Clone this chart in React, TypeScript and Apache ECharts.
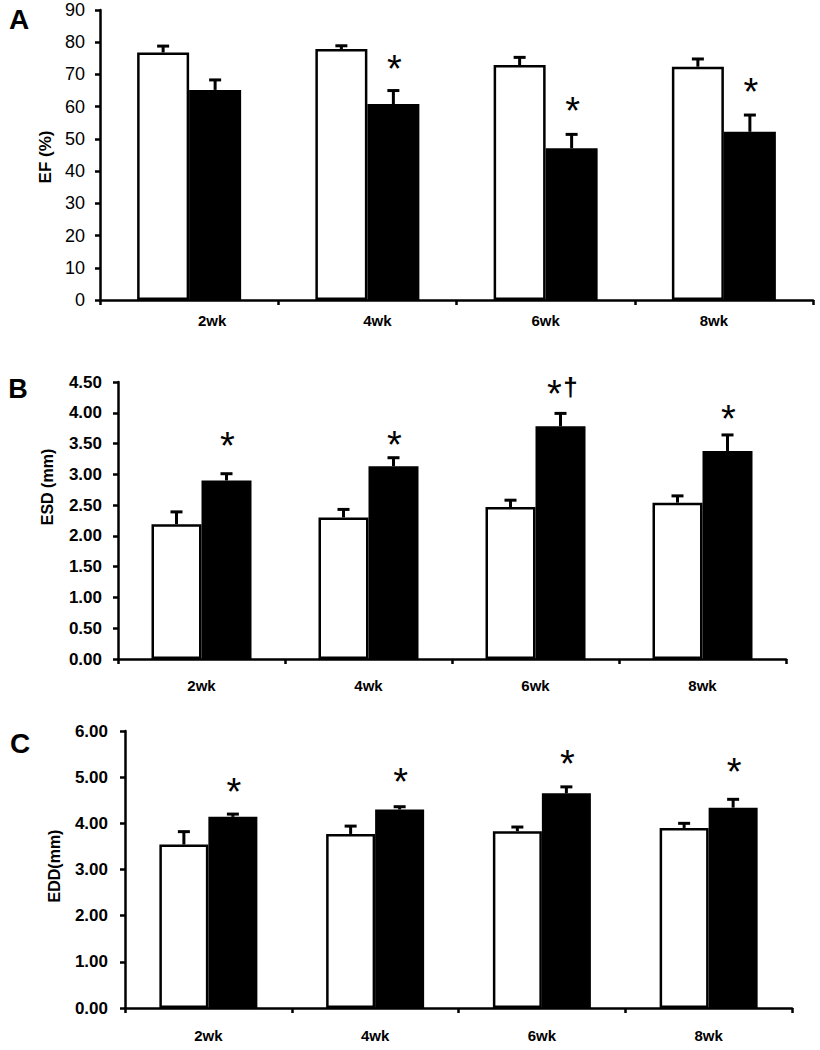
import React, { useEffect, useRef } from "react";
import * as echarts from "echarts";

// ---- data ----
const weeks = ["2wk", "4wk", "6wk", "8wk"];

const efSham = [76.8, 77.9, 72.9, 72.4];
const efShamErr = [2.0, 1.0, 2.4, 2.4];
const efTac = [65.2, 60.8, 47.1, 52.2];
const efTacErr = [3.1, 4.2, 4.3, 5.2];
const efMarks = ["", "*", "*", "*"];
const efMarkY = [0, 74.5, 61.6, 67.2];

const esdSham = [2.19, 2.3, 2.47, 2.54];
const esdShamErr = [0.2, 0.13, 0.11, 0.11];
const esdTac = [2.9, 3.13, 3.78, 3.38];
const esdTacErr = [0.11, 0.14, 0.21, 0.26];
const esdMarks = ["*", "*", "*†", "*"];
const esdMarkY = [3.6, 3.62, 4.45, 4.05];

const eddSham = [3.54, 3.77, 3.83, 3.9];
const eddShamErr = [0.28, 0.17, 0.09, 0.1];
const eddTac = [4.14, 4.3, 4.65, 4.34];
const eddTacErr = [0.06, 0.06, 0.14, 0.18];
const eddMarks = ["*", "*", "*", "*"];
const eddMarkY = [4.88, 5.09, 5.49, 5.31];

const FONT = "'Liberation Sans', Arial, Helvetica, sans-serif";
const BLACK = "#000000";

function barPair(g: number, sham: number[], tac: number[], bw: number) {
  return [
    {
      type: "bar",
      xAxisIndex: g,
      yAxisIndex: g,
      data: sham,
      barWidth: bw,
      barGap: "0%",
      z: 2,
      itemStyle: { color: "#ffffff", borderColor: BLACK, borderWidth: 2.5 },
    },
    {
      type: "bar",
      xAxisIndex: g,
      yAxisIndex: g,
      data: tac,
      barWidth: bw,
      barGap: "0%",
      z: 2,
      itemStyle: { color: BLACK, borderColor: BLACK, borderWidth: 2.5 },
    },
  ];
}

function errorSeries(g: number, vals: number[], errs: number[], side: number, bw: number) {
  return {
    type: "custom",
    xAxisIndex: g,
    yAxisIndex: g,
    z: 5,
    data: vals.map((v, i) => [i, v, v + errs[i]]),
    renderItem: (_p: any, api: any) => {
      const base = api.coord([api.value(0), api.value(1)]);
      const top = api.coord([api.value(0), api.value(2)]);
      const x = base[0] + (side * bw) / 2;
      return {
        type: "group",
        children: [
          { type: "line", shape: { x1: x, y1: base[1], x2: x, y2: top[1] }, style: { stroke: BLACK, lineWidth: 3 } },
          { type: "line", shape: { x1: x - 6, y1: top[1], x2: x + 6, y2: top[1] }, style: { stroke: BLACK, lineWidth: 3 } },
        ],
      };
    },
  };
}

function markSeries(g: number, marks: string[], ys: number[], bw: number) {
  const data = marks.map((m, i) => [i, ys[i]]).filter((d) => marks[d[0]] !== "");
  return {
    type: "custom",
    xAxisIndex: g,
    yAxisIndex: g,
    z: 6,
    data,
    renderItem: (_p: any, api: any) => {
      const idx = api.value(0);
      const pt = api.coord([idx, api.value(1)]);
      const cx = pt[0] + bw / 2;
      const m = marks[idx];
      const chars = Array.from(m);
      const children: any[] = [];
      const offs = chars.length === 1 ? [1] : [-6, 10];
      chars.forEach((c, k) => {
        const isStar = c === "*";
        children.push({
          type: "text",
          x: cx + offs[k],
          y: pt[1] + (isStar ? 9 : 2),
          style: {
            text: c,
            fill: BLACK,
            fontFamily: FONT,
            fontSize: isStar ? 38 : 26,
            fontWeight: isStar ? "normal" : "bold",
            align: "center",
            verticalAlign: "middle",
          },
        });
      });
      return { type: "group", children };
    },
  };
}

function xAxisFor(g: number, margin: number, rich?: boolean) {
  const ax: any = {
    gridIndex: g,
    type: "category",
    data: weeks,
    axisLine: { show: true, lineStyle: { color: BLACK, width: 2.5 } },
    axisTick: { show: true, length: 5, lineStyle: { color: BLACK, width: 2.5 } },
    splitLine: { show: false },
    axisLabel: {
      color: BLACK,
      fontFamily: FONT,
      fontWeight: "bold",
      fontSize: 15,
      margin,
    },
  };
  if (rich) {
    ax.axisLabel.formatter = (v: string, i: number) => `{l${i}|${v}}`;
    const base = { color: BLACK, fontFamily: FONT, fontWeight: "bold", fontSize: 15 };
    ax.axisLabel.rich = {
      l0: { ...base, padding: [0, 0, 0, 46] },
      l1: { ...base, padding: [0, 0, 0, 20] },
      l2: { ...base },
      l3: { ...base, padding: [0, 20, 0, 0] },
    };
  }
  return ax;
}

function yAxisFor(g: number, max: number, interval: number, decimals: number, fontSize: number, weight: string, margin: number) {
  return {
    gridIndex: g,
    type: "value",
    min: 0,
    max,
    interval,
    axisLine: { show: true, lineStyle: { color: BLACK, width: 2.5 } },
    axisTick: { show: true, length: 5, lineStyle: { color: BLACK, width: 2.5 } },
    splitLine: { show: false },
    axisLabel: {
      color: BLACK,
      fontFamily: FONT,
      fontSize,
      fontWeight: weight,
      margin,
      formatter: (v: number) => v.toFixed(decimals),
    },
  };
}

export default function App() {
  const ref = useRef<HTMLDivElement>(null);
  useEffect(() => {
    document.body.style.margin = "0";
    if (!ref.current) return;
    const chart = echarts.init(ref.current, null, { renderer: "svg" });
    const bwA = 52;
    const bwB = 50;
    const bwC = 49;
    const option: any = {
      animation: false,
      backgroundColor: "#ffffff",
      grid: [
        { left: 100, top: 10, right: 7, height: 290, containLabel: false, outerBoundsMode: "none" },
        { left: 118, top: 382, right: 34, height: 277, containLabel: false, outerBoundsMode: "none" },
        { left: 125, top: 731, right: 28, height: 277, containLabel: false, outerBoundsMode: "none" },
      ],
      xAxis: [xAxisFor(0, 13, true), xAxisFor(1, 19), xAxisFor(2, 20)],
      yAxis: [
        yAxisFor(0, 90, 10, 0, 18, "normal", 15),
        yAxisFor(1, 4.5, 0.5, 2, 17, "bold", 16),
        yAxisFor(2, 6, 1, 2, 17, "bold", 17),
      ],
      series: [
        ...barPair(0, efSham, efTac, bwA),
        errorSeries(0, efSham, efShamErr, -1, bwA),
        errorSeries(0, efTac, efTacErr, 1, bwA),
        markSeries(0, efMarks, efMarkY, bwA),
        ...barPair(1, esdSham, esdTac, bwB),
        errorSeries(1, esdSham, esdShamErr, -1, bwB),
        errorSeries(1, esdTac, esdTacErr, 1, bwB),
        markSeries(1, esdMarks, esdMarkY, bwB),
        ...barPair(2, eddSham, eddTac, bwC),
        errorSeries(2, eddSham, eddShamErr, -1, bwC),
        errorSeries(2, eddTac, eddTacErr, 1, bwC),
        markSeries(2, eddMarks, eddMarkY, bwC),
      ],
      graphic: [
        { type: "text", x: 19, y: 19, style: { text: "A", fill: BLACK, fontFamily: FONT, fontWeight: "bold", fontSize: 28, align: "center", verticalAlign: "middle" } },
        { type: "text", x: 18, y: 389, style: { text: "B", fill: BLACK, fontFamily: FONT, fontWeight: "bold", fontSize: 27, align: "center", verticalAlign: "middle" } },
        { type: "text", x: 20, y: 743, style: { text: "C", fill: BLACK, fontFamily: FONT, fontWeight: "bold", fontSize: 28, align: "center", verticalAlign: "middle" } },
        { type: "text", x: 45, y: 157, rotation: Math.PI / 2, style: { text: "EF (%)", fill: BLACK, fontFamily: FONT, fontWeight: "bold", fontSize: 17, align: "center", verticalAlign: "middle" } },
        { type: "text", x: 47, y: 487, rotation: Math.PI / 2, style: { text: "ESD (mm)", fill: BLACK, fontFamily: FONT, fontWeight: "bold", fontSize: 16, align: "center", verticalAlign: "middle" } },
        { type: "text", x: 54, y: 866, rotation: Math.PI / 2, style: { text: "EDD(mm)", fill: BLACK, fontFamily: FONT, fontWeight: "bold", fontSize: 16, align: "center", verticalAlign: "middle" } },
      ],
    };
    chart.setOption(option);
    return () => chart.dispose();
  }, []);
  return <div ref={ref} style={{ width: 820, height: 1050 }} />;
}
